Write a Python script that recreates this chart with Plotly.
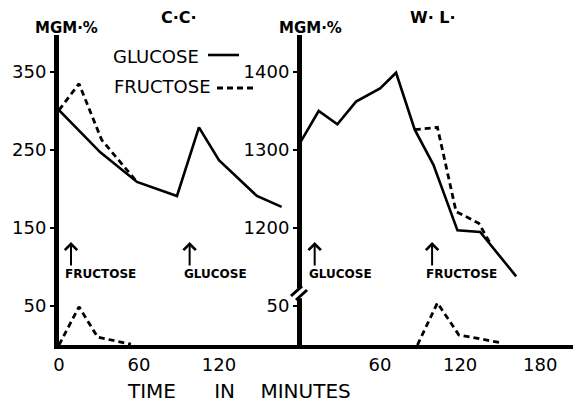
import plotly.graph_objects as go

# ---------------- data ----------------
# Left panel (C.C.): blood sugar, mg %
cc_glucose_t = [0, 31, 58.5, 88.5, 105, 120, 148.5, 167]
cc_glucose_v = [301, 247, 209, 191, 279, 237, 191, 177]
cc_fructose_t = [0, 15, 32, 58.5]
cc_fructose_v = [301, 335, 263, 209]
cc_fructose_low_t = [0, 15, 29, 54]
cc_fructose_low_v = [0, 49, 10, 1]

# Right panel (W.L.)
wl_glucose_t = [0, 14, 28, 42, 60, 72, 86, 100, 118, 135, 162]
wl_glucose_v = [1309, 1350, 1333, 1362, 1379, 1399, 1326, 1281, 1197, 1195, 1138]
wl_fructose_t = [86, 103, 117, 134, 143]
wl_fructose_v = [1326, 1329, 1221, 1206, 1179]
wl_fructose_low_t = [88, 103, 119, 150]
wl_fructose_low_v = [0, 54, 13, 3]

# injection times (minutes)
cc_injections = [("FRUCTOSE", 9), ("GLUCOSE", 98)]
wl_injections = [("GLUCOSE", 11), ("FRUCTOSE", 99)]

# axis ticks
cc_xticks = [0, 60, 120]
wl_xticks = [0, 60, 120, 180]
cc_yticks = [50, 150, 250, 350]
wl_low_ticks = [50]
wl_high_ticks = [1200, 1300, 1400]
WL_OFFSET = 1050  # broken axis: 1200 on W.L. sits level with 150 on C.C.

# ---------------- figure ----------------
W, H = 581, 403
OFF = 8  # page body margin of the browser
PL, PR, PT, PB = 59, 575, 35, 345  # plot area in window pixels
PW, PH = PR - PL, PB - PT


def px_x(px):
    return (px - PL) / PW


def px_y(py):
    return (PB - py) / PH


YMAX = 397.4
FONT = "DejaVu Sans"
solid = dict(color="black", width=2.6)
dashed = dict(color="black", width=2.8, dash="6px,4px")

fig = go.Figure()
fig.add_trace(go.Scatter(x=cc_glucose_t, y=cc_glucose_v, mode="lines", line=solid,
                         xaxis="x", yaxis="y", name="GLUCOSE"))
fig.add_trace(go.Scatter(x=cc_fructose_t, y=cc_fructose_v, mode="lines", line=dashed,
                         xaxis="x", yaxis="y", name="FRUCTOSE"))
fig.add_trace(go.Scatter(x=cc_fructose_low_t, y=cc_fructose_low_v, mode="lines", line=dashed,
                         xaxis="x", yaxis="y", name="FRUCTOSE"))
fig.add_trace(go.Scatter(x=wl_glucose_t, y=[v - WL_OFFSET for v in wl_glucose_v], mode="lines",
                         line=solid, xaxis="x2", yaxis="y2", name="GLUCOSE",
                         customdata=wl_glucose_v, hovertemplate="%{x}, %{customdata}"))
fig.add_trace(go.Scatter(x=wl_fructose_t, y=[v - WL_OFFSET for v in wl_fructose_v], mode="lines",
                         line=dashed, xaxis="x2", yaxis="y2", name="FRUCTOSE",
                         customdata=wl_fructose_v, hovertemplate="%{x}, %{customdata}"))
fig.add_trace(go.Scatter(x=wl_fructose_low_t, y=wl_fructose_low_v, mode="lines", line=dashed,
                         xaxis="x2", yaxis="y2", name="FRUCTOSE"))

xcommon = dict(showline=True, linewidth=4, linecolor="black", ticks="", showgrid=False,
               zeroline=False, automargin=False,
               tickfont=dict(family=FONT, size=18, color="black"))
ycommon = dict(showline=True, linewidth=5, linecolor="black", ticks="outside", ticklen=4,
               tickwidth=2, tickcolor="black", showgrid=False, zeroline=False,
               automargin=False, range=[0, YMAX],
               tickfont=dict(family=FONT, size=18, color="black"))

fig.update_layout(
    width=W, height=H,
    margin=dict(l=PL - OFF, r=W - (PR - OFF), t=PT - OFF, b=H - (PB - OFF)),
    paper_bgcolor="white", plot_bgcolor="white",
    showlegend=False,
    xaxis=dict(domain=[0, px_x(298)], range=[0, 179.3], tickvals=cc_xticks,
               anchor="y", **xcommon),
    xaxis2=dict(domain=[px_x(302), 1], range=[1.5, 206.1], tickvals=wl_xticks,
                anchor="y2", **xcommon),
    yaxis=dict(anchor="x", tickvals=cc_yticks, ticktext=[str(v) for v in cc_yticks], **ycommon),
    yaxis2=dict(anchor="x2",
                tickvals=wl_low_ticks + [v - WL_OFFSET for v in wl_high_ticks],
                ticktext=[str(v) for v in wl_low_ticks + wl_high_ticks], **ycommon),
)

ann = []
shapes = []


def text(x, y, s, size, bold=False, xanchor="center", **kw):
    ann.append(dict(x=x, y=y, text=s, showarrow=False, xanchor=xanchor, yanchor="middle",
                    font=dict(family=FONT, size=size, color="black",
                              weight="bold" if bold else "normal"), **kw))


# titles and unit labels
text(px_x(179), px_y(18), "C·C·", 16, bold=True, xref="paper", yref="paper")
text(px_x(433), px_y(18), "W· L·", 16, bold=True, xref="paper", yref="paper")
text(px_x(66), px_y(28), "MGM·%", 15, bold=True, xref="paper", yref="paper")
text(px_x(310), px_y(28), "MGM·%", 15, bold=True, xref="paper", yref="paper")

# legend
text(px_x(111), px_y(57), "GLUCOSE", 18, xanchor="left", xref="paper", yref="paper")
text(px_x(112), px_y(86), "FRUCTOSE", 18, xanchor="left", xref="paper", yref="paper")
shapes.append(dict(type="line", xref="paper", yref="paper", x0=px_x(208), x1=px_x(239),
                   y0=px_y(55), y1=px_y(55), line=solid))
shapes.append(dict(type="line", xref="paper", yref="paper", x0=px_x(217), x1=px_x(253),
                   y0=px_y(88), y1=px_y(88), line=dashed))

# injection arrows
for xa, injections in (("x", cc_injections), ("x2", wl_injections)):
    for label, t in injections:
        ann.append(dict(x=t, y=px_y(242), xref=xa, yref="paper", text="", showarrow=True,
                        ax=0, ay=25, arrowhead=4, arrowsize=1.2, arrowwidth=2,
                        arrowcolor="black", standoff=0, startstandoff=0))
        text(t, px_y(274), label, 12, bold=True, xanchor="left", xshift=-8, xref=xa, yref="paper")

# x axis title
text(px_x(239), px_y(391), "TIME      IN    MINUTES", 20, xref="paper", yref="paper")

# axis break on the W.L. axis
shapes.append(dict(type="rect", xref="paper", yref="y2", x0=px_x(293), x1=px_x(305),
                   y0=60, y1=73, fillcolor="white", line=dict(width=0), layer="above"))
shapes.append(dict(type="line", xref="paper", yref="y2", x0=px_x(291), x1=px_x(302),
                   y0=62.8, y1=75.6, line=dict(color="black", width=3), layer="above"))
shapes.append(dict(type="line", xref="paper", yref="y2", x0=px_x(296), x1=px_x(307),
                   y0=57.7, y1=70.5, line=dict(color="black", width=3), layer="above"))

fig.update_layout(annotations=ann, shapes=shapes)
fig.write_html("out.html")
